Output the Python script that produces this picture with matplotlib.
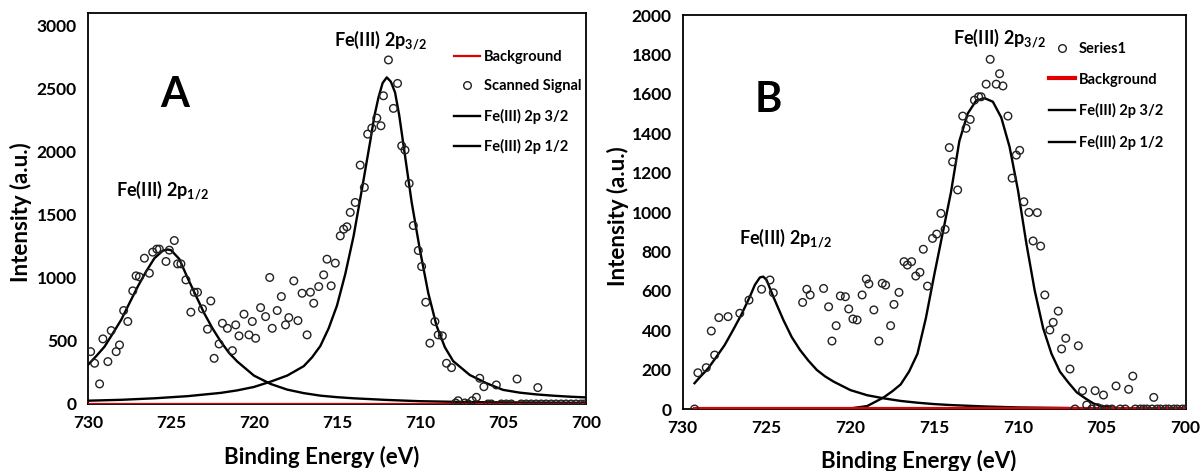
import matplotlib
matplotlib.use("Agg")
import matplotlib.pyplot as plt

plt.rcParams["font.family"] = ["Lato", "DejaVu Sans"]
plt.rcParams["font.weight"] = "bold"
plt.rcParams["mathtext.fontset"] = "custom"
plt.rcParams["mathtext.rm"] = "Lato:bold"
plt.rcParams["mathtext.it"] = "Lato:bold"
plt.rcParams["mathtext.bf"] = "Lato:bold"

# ---- panel A: scanned signal ----
a_be = [729.84, 729.6, 729.3, 729.1, 728.8, 728.6, 728.3, 728.1, 727.85, 727.6,
        727.3, 727.1, 726.9, 726.6, 726.3, 726.1, 725.85, 725.7, 725.3, 725.1,
        724.8, 724.6, 724.4, 724.1, 723.8, 723.6, 723.4, 723.1, 722.8, 722.6,
        722.4, 722.1, 721.9, 721.6, 721.3, 721.1, 720.9, 720.6, 720.3, 720.1,
        719.9, 719.6, 719.3, 719.05, 718.9, 718.6, 718.35, 718.1, 717.9, 717.6,
        717.35, 717.1, 716.8, 716.6, 716.4, 716.1, 715.8, 715.6, 715.35, 715.1,
        714.8, 714.6, 714.4, 714.2, 713.9, 713.6, 713.35, 713.15, 712.9, 712.6,
        712.35, 712.2, 711.9, 711.6, 711.35, 711.1, 710.9, 710.65, 710.4, 710.1,
        709.9, 709.65, 709.4, 709.1, 708.9, 708.65, 708.4, 708.1, 707.85, 707.7,
        707.3, 707.1, 706.85, 706.6, 706.4, 706.15, 705.9, 705.7, 705.4, 705.1,
        704.8, 704.5, 704.15, 703.9, 703.6, 703.3, 703.0, 702.9, 702.7, 702.4,
        702.1, 701.8, 701.5, 701.2, 700.9, 700.6, 700.3, 700.1]
a_int = [415, 323, 159, 516, 336, 582, 415, 468, 741, 654,
         897, 1016, 1008, 1156, 1037, 1204, 1228, 1228, 1130, 1220,
         1296, 1111, 1111, 984, 728, 886, 886, 754, 593, 817,
         362, 476, 640, 600, 423, 627, 540, 712, 548, 654,
         521, 764, 693, 1003, 600, 741, 852, 627, 685, 976,
         661, 878, 548, 886, 799, 931, 1024, 1148, 937, 1117,
         1333, 1386, 1405, 1519, 1598, 1894, 1717, 2140, 2188, 2267,
         2206, 2444, 2728, 2344, 2542, 2047, 2013, 1749, 1415, 1217,
         1090, 807, 482, 654, 548, 540, 323, 288, 8, 26,
         8, 0, 26, 53, 204, 137, 0, 0, 151, 0,
         0, 0, 198, 0, 0, 0, 0, 130, 0, 0,
         0, 0, 0, 0, 0, 0, 0, 0]

# panel A fitted components
a_p32_be = [730, 728, 726, 724, 722, 721, 720, 719, 718, 717, 716.5, 716,
            715.5, 715, 714.5, 714, 713.5, 713, 712.75, 712.5, 712.25, 712,
            711.75, 711.5, 711.25, 711, 710.5, 710, 709.5, 709, 708.5, 708,
            707, 706, 705, 704, 703, 702, 701, 700]
a_p32 = [26, 33, 45, 62, 88, 108, 135, 177, 225, 300, 370, 460,
         600, 780, 1030, 1330, 1700, 2080, 2280, 2430, 2545, 2590,
         2555, 2470, 2290, 2060, 1600, 1220, 880, 620, 450, 340,
         230, 165, 112, 90, 76, 66, 58, 52]
a_p12_be = [730, 729.5, 729, 728.5, 728, 727.5, 727, 726.5, 726, 725.5, 725.2,
            725, 724.5, 724, 723.5, 723, 722.5, 722, 721.5, 721, 720, 719, 718,
            717, 716, 715, 714, 712, 710, 707, 704, 700]
a_p12 = [310, 380, 455, 560, 667, 800, 931, 1050, 1155, 1215, 1225,
         1220, 1150, 1000, 860, 720, 600, 495, 405, 336, 225, 159, 114,
         86, 66, 54, 45, 32, 22, 15, 12, 9]
a_bg_be = [730, 700]
a_bg = [0, 0]

# ---- panel B: scanned signal ----
b_be = [729.3, 729.1, 728.6, 728.3, 728.1, 727.85, 727.3, 726.6, 726.05, 725.3,
        724.8, 724.6, 722.85, 722.6, 722.4, 721.6, 721.3, 721.1, 720.85, 720.6,
        720.3, 720.1, 719.85, 719.6, 719.3, 719.05, 718.9, 718.6, 718.3, 718.1,
        717.9, 717.6, 717.4, 717.1, 716.8, 716.6, 716.35, 716.1, 715.85, 715.65,
        715.4, 715.1, 714.85, 714.6, 714.35, 714.1, 713.9, 713.6, 713.3, 713.1,
        712.85, 712.6, 712.35, 712.2, 711.9, 711.66, 711.3, 711.1, 710.9, 710.6,
        710.35, 710.1, 709.9, 709.65, 709.35, 709.1, 708.85, 708.65, 708.4, 708.1,
        707.9, 707.6, 707.4, 707.15, 706.9, 706.6, 706.4, 706.15, 705.9, 705.6,
        705.4, 705.25, 705.0, 704.9, 704.7, 704.4, 704.15, 703.9, 703.6, 703.4,
        703.15, 703.0, 702.7, 702.5, 702.3, 702.0, 701.9, 701.7, 701.5, 701.2,
        701.0, 700.7, 700.5, 700.2, 700.0]
b_int = [0, 184, 210, 396, 274, 464, 469, 486, 553, 608,
         655, 590, 541, 608, 579, 612, 519, 345, 423, 574,
         570, 508, 457, 452, 579, 660, 635, 503, 345, 638,
         629, 423, 531, 592, 748, 731, 748, 675, 694, 811,
         624, 866, 888, 993, 912, 1327, 1255, 1112, 1487, 1425,
         1470, 1568, 1585, 1585, 1649, 1775, 1649, 1702, 1640, 1487,
         1172, 1289, 1313, 1052, 998, 853, 997, 827, 579, 401,
         440, 497, 305, 359, 203, 0, 321, 93, 20, 0,
         93, 7, 0, 71, 0, 0, 117, 0, 0, 100,
         167, 0, 0, 0, 0, 0, 59, 0, 0, 0,
         0, 0, 0, 0, 0]

# panel B fitted components
b_p32_be = [729.3, 722, 720, 719, 718.3, 718, 717.5, 717, 716.5, 716, 715.5,
            715, 714.5, 714, 713.5, 713, 712.5, 712, 711.5, 711, 710.5, 710,
            709.5, 709, 708.5, 708, 707.5, 707, 706.5, 706, 705.5, 705, 704,
            703, 700]
b_p32 = [0, 0, 3, 15, 46, 60, 90, 125, 190, 280, 460,
         680, 890, 1100, 1360, 1500, 1565, 1578, 1560, 1480, 1330, 1110,
         840, 600, 410, 280, 190, 135, 85, 55, 28, 14, 4,
         0, 0]
b_p12_be = [729.3, 729, 728.5, 728, 727.5, 727, 726.5, 726, 725.7, 725.4, 725.2,
            725, 724.6, 724, 723.5, 723, 722.5, 722, 721.5, 721, 720, 719, 718,
            717, 716, 715, 714, 712, 710, 705, 700]
b_p12 = [131, 160, 205, 264, 325, 401, 480, 570, 630, 668, 672,
         655, 570, 452, 365, 299, 245, 198, 165, 139, 96, 70, 54,
         41, 32, 25, 20, 13, 8, 3, 1]
b_bg_be = [729.3, 700]
b_bg = [0, 0]

xticks = [730, 725, 720, 715, 710, 705, 700]


def style_axes(ax, ymax, yticks):
    ax.set_xlim(730, 700)
    ax.set_ylim(0, ymax)
    ax.set_xticks(xticks)
    ax.set_yticks(yticks)
    ax.tick_params(length=0, labelsize=12.5, pad=8)
    for lab in ax.get_xticklabels() + ax.get_yticklabels():
        lab.set_fontweight("bold")
    for sp in ax.spines.values():
        sp.set_linewidth(1.3)
        sp.set_color("black")
    ax.set_xlabel("Binding Energy (eV)", fontsize=16, fontweight="bold")
    ax.set_ylabel("Intensity (a.u.)", fontsize=16, fontweight="bold")


fig = plt.figure(figsize=(12, 4.71), dpi=100)
axA = fig.add_axes([0.0733, 0.1423, 0.415, 0.830])
axB = fig.add_axes([0.569, 0.1316, 0.419, 0.8365])

# panel A
axA.plot(a_bg_be, a_bg, color="#e00000", lw=1.6, zorder=3)
axA.plot(a_p32_be, a_p32, color="black", lw=1.7, zorder=2)
axA.plot(a_p12_be, a_p12, color="black", lw=1.7, zorder=2)
axA.scatter(a_be, a_int, s=30, facecolors="none", edgecolors="#222222",
            linewidths=1.0, zorder=4)
style_axes(axA, 3100, [0, 500, 1000, 1500, 2000, 2500, 3000])
axA.yaxis.set_label_coords(-0.113, 0.49)
axA.xaxis.set_label_coords(0.47, -0.108)
axA.text(724.8, 2450, "A", fontsize=30, fontweight="bold", ha="center", va="center")
axA.text(712.4, 2890, "Fe(III) 2p$_{3/2}$", fontsize=13, ha="center", va="center")
axA.text(725.5, 1700, "Fe(III) 2p$_{1/2}$", fontsize=13, ha="center", va="center")
l1 = plt.Line2D([], [], color="#e00000", lw=1.6)
l2 = plt.Line2D([], [], ls="none", marker="o", mfc="none", mec="#222222", ms=5.5)
l3 = plt.Line2D([], [], color="black", lw=1.7)
axA.legend([l1, l2, l3, l3],
           ["Background", "Scanned Signal", "Fe(III) 2p 3/2", "Fe(III) 2p 1/2"],
           loc="upper left", bbox_to_anchor=(0.735, 0.905), frameon=False,
           fontsize=10.5, handlelength=1.8, handletextpad=0.25, labelspacing=1.05,
           borderaxespad=0, borderpad=0)

# panel B
axB.plot(b_p32_be, b_p32, color="black", lw=1.7, zorder=2)
axB.plot(b_p12_be, b_p12, color="black", lw=1.7, zorder=2)
axB.plot(b_bg_be, b_bg, color="#e00000", lw=3, zorder=3)
axB.scatter(b_be, b_int, s=30, facecolors="none", edgecolors="#222222",
            linewidths=1.0, zorder=4)
style_axes(axB, 2000, list(range(0, 2001, 200)))
axB.yaxis.set_label_coords(-0.107, 0.49)
axB.xaxis.set_label_coords(0.47, -0.105)
axB.text(724.9, 1570, "B", fontsize=30, fontweight="bold", ha="center", va="center")
axB.text(711.1, 1885, "Fe(III) 2p$_{3/2}$", fontsize=13, ha="center", va="center")
axB.text(723.9, 870, "Fe(III) 2p$_{1/2}$", fontsize=13, ha="center", va="center")
m1 = plt.Line2D([], [], ls="none", marker="o", mfc="none", mec="#222222", ms=5.5)
m2 = plt.Line2D([], [], color="#e00000", lw=3)
axB.legend([m1, m2, l3, l3],
           ["Series1", "Background", "Fe(III) 2p 3/2", "Fe(III) 2p 1/2"],
           loc="upper left", bbox_to_anchor=(0.728, 0.932), frameon=False,
           fontsize=10.5, handlelength=1.8, handletextpad=0.25, labelspacing=1.15,
           borderaxespad=0, borderpad=0)

fig.savefig("out.png", dpi=100)
